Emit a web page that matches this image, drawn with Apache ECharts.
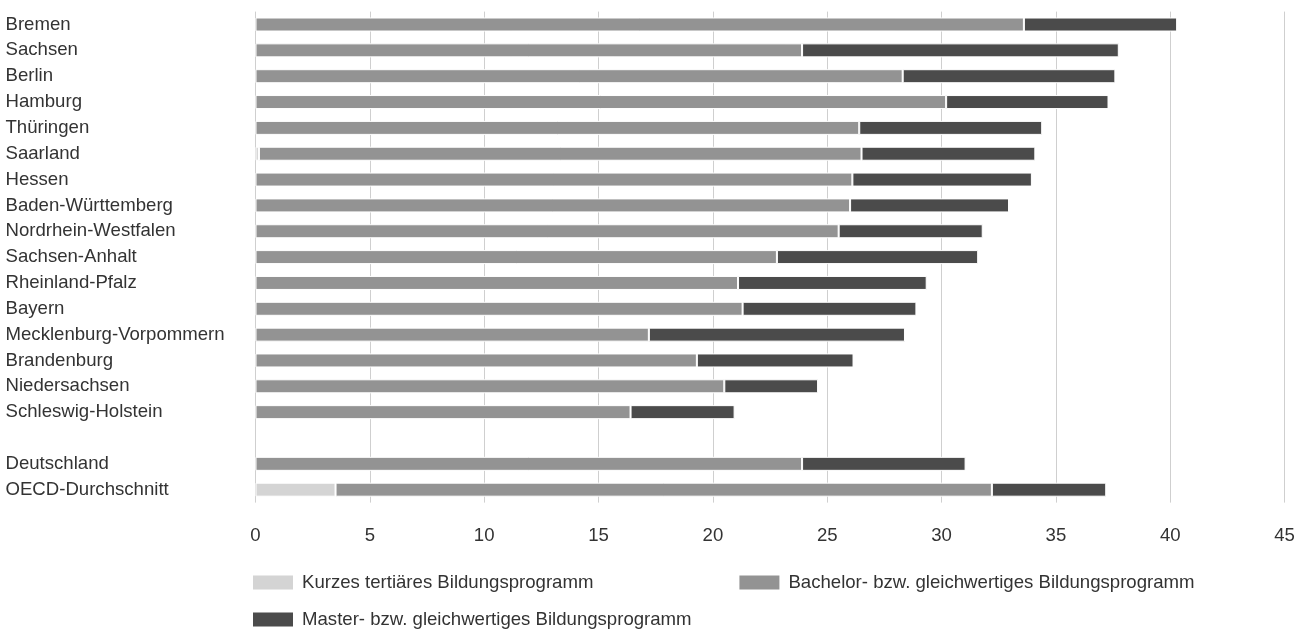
<!DOCTYPE html>
<html>
<head>
<meta charset="utf-8">
<script src="https://cdn.jsdelivr.net/npm/echarts@6/dist/echarts.min.js"></script>
<style>
html,body{margin:0;padding:0;background:#fff;}
#chart{width:1309px;height:630px;}
</style>
</head>
<body>
<div id="chart"></div>
<script>
const categories = ['Bremen','Sachsen','Berlin','Hamburg','Thüringen','Saarland','Hessen','Baden-Württemberg','Nordrhein-Westfalen','Sachsen-Anhalt','Rheinland-Pfalz','Bayern','Mecklenburg-Vorpommern','Brandenburg','Niedersachsen','Schleswig-Holstein','','Deutschland','OECD-Durchschnitt'];
const seriesNames = ['Kurzes tertiäres Bildungsprogramm','Bachelor- bzw. gleichwertiges Bildungsprogramm','Master- bzw. gleichwertiges Bildungsprogramm'];
const kurz = [null,null,null,null,null,0.15,null,null,null,null,null,null,null,null,null,null,null,null,3.5];
const bachelor = [33.6,23.9,28.3,30.2,26.4,26.35,26.1,26.0,25.5,22.8,21.1,21.3,17.2,19.3,20.5,16.4,null,23.9,28.7];
const master = [6.7,13.85,9.3,7.1,8.0,7.6,7.85,6.95,6.3,8.8,8.25,7.6,11.2,6.85,4.1,4.55,null,7.15,5.0];
const xTicks = [0,5,10,15,20,25,30,35,40,45];
const colors = ['#d4d4d4','#939393','#4b4b4b'];

const font = 'Liberation Sans, Arial, Helvetica, sans-serif';
const chart = echarts.init(document.getElementById('chart'), null, {renderer:'canvas'});
const values = [kurz, bachelor, master];
chart.setOption({
  animation:false,
  backgroundColor:'#fff',
  textStyle:{fontFamily:font},
  grid:{left:255.5, right:24.4, top:11.6, height:491, containLabel:false, outerBoundsMode:'none'},
  xAxis:{
    type:'value', min:xTicks[0], max:xTicks[xTicks.length-1], interval:5,
    axisLine:{show:false}, axisTick:{show:false},
    axisLabel:{margin:24, fontSize:18.6, color:'#333', fontFamily:font},
    splitLine:{show:true, lineStyle:{color:'#cfcfcf', width:1}}
  },
  yAxis:{
    type:'category', data:categories, inverse:true,
    axisLine:{show:false}, axisTick:{show:false},
    axisLabel:{align:'left', margin:250, fontSize:18.6, color:'#333', fontFamily:font}
  },
  legend:[{
    data:[seriesNames[0], seriesNames[1]],
    left:253, top:573, orient:'horizontal', padding:0,
    icon:'rect', itemWidth:40, itemHeight:14, itemGap:146,
    itemStyle:{borderWidth:0},
    textStyle:{fontSize:18.6, color:'#333', fontFamily:font, padding:[0,0,0,4]},
    selectedMode:false
  },{
    data:[seriesNames[2]],
    left:253, top:610, orient:'horizontal', padding:0,
    icon:'rect', itemWidth:40, itemHeight:14,
    itemStyle:{borderWidth:0},
    textStyle:{fontSize:18.6, color:'#333', fontFamily:font, padding:[0,0,0,4]},
    selectedMode:false
  }],
  series: seriesNames.map((n,i)=>({
    name:n, type:'bar', stack:'total', data:values[i], barWidth:14,
    itemStyle:{color:colors[i], borderColor:'#ffffff', borderWidth:1},
    emphasis:{disabled:true}
  }))
});
</script>
</body>
</html>
